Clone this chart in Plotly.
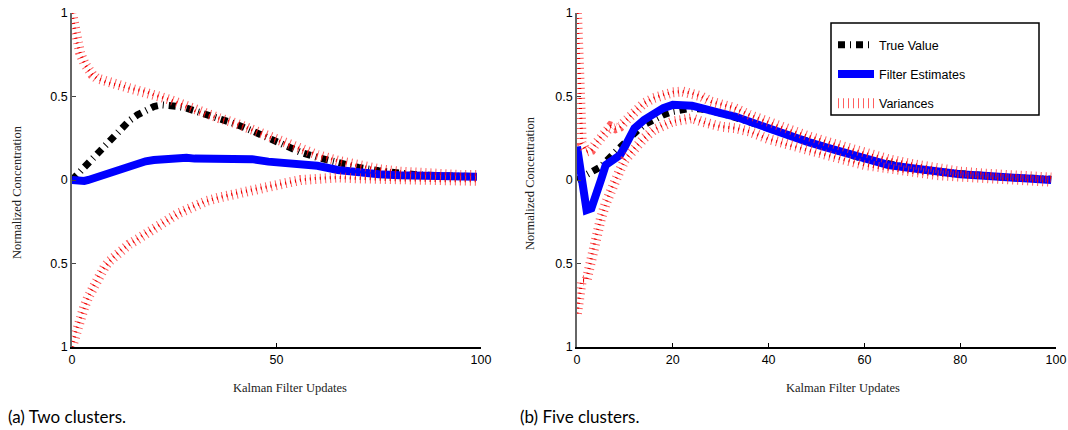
import plotly.graph_objects as go

W, H = 1068, 430

# ---------------- data ----------------
x_pts = [0, 1, 2, 3, 4, 5, 6, 7, 8, 9, 10, 12, 14, 16, 18, 20, 22, 24, 26, 28, 30,
         33, 36, 40, 44, 48, 52, 56, 60, 65, 70, 75, 80, 85, 90, 95, 99]

# (a) Two clusters
true_a = [0.0, 0.025, 0.05, 0.075, 0.10, 0.125, 0.15, 0.175, 0.20, 0.23, 0.26, 0.315, 0.355,
          0.39, 0.42, 0.44, 0.45, 0.45, 0.44, 0.43, 0.415, 0.39, 0.37, 0.335, 0.295, 0.25,
          0.205, 0.165, 0.135, 0.10, 0.075, 0.055, 0.04, 0.03, 0.025, 0.02, 0.02]
est_a = [0.0, -0.004, -0.008, -0.006, 0.0, 0.008, 0.015, 0.025, 0.035, 0.045, 0.055, 0.075,
         0.09, 0.10, 0.112, 0.12, 0.125, 0.13, 0.128, 0.133, 0.128, 0.126, 0.13, 0.133, 0.125,
         0.11, 0.105, 0.10, 0.085, 0.06, 0.045, 0.035, 0.028, 0.024, 0.02, 0.02, 0.02]
var_hi_a = [1.0, 0.84, 0.76, 0.70, 0.66, 0.63, 0.61, 0.60, 0.59, 0.58, 0.575, 0.565, 0.55,
            0.54, 0.53, 0.51, 0.495, 0.48, 0.46, 0.44, 0.415, 0.39, 0.37, 0.34, 0.30, 0.26,
            0.22, 0.185, 0.15, 0.115, 0.085, 0.065, 0.05, 0.04, 0.035, 0.03, 0.03]
var_lo_a = [-1.0, -0.9, -0.83, -0.76, -0.70, -0.65, -0.60, -0.55, -0.52, -0.49, -0.465, -0.42,
            -0.385, -0.355, -0.32, -0.29, -0.26, -0.23, -0.20, -0.175, -0.155, -0.125, -0.105,
            -0.08, -0.06, -0.04, -0.02, 0.0, 0.01, 0.015, 0.01, 0.005, 0.0, 0.0, -0.005,
            -0.005, -0.005]

# (b) Five clusters
true_b = [0.0, 0.015, 0.03, 0.05, 0.065, 0.08, 0.11, 0.14, 0.17, 0.20, 0.225, 0.28, 0.33,
          0.365, 0.39, 0.41, 0.425, 0.43, 0.425, 0.415, 0.40, 0.375, 0.35, 0.31, 0.27, 0.23,
          0.195, 0.16, 0.125, 0.095, 0.07, 0.05, 0.035, 0.025, 0.015, 0.01, 0.005]
est_b = [0.2, -0.04, -0.18, -0.17, -0.10, 0.0, 0.09, 0.11, 0.12, 0.15, 0.20, 0.31, 0.36,
         0.40, 0.43, 0.45, 0.45, 0.445, 0.43, 0.41, 0.40, 0.38, 0.35, 0.30, 0.265, 0.23,
         0.195, 0.16, 0.125, 0.09, 0.07, 0.05, 0.035, 0.025, 0.015, 0.005, 0.0]
var_hi_b = [1.0, 0.22, 0.17, 0.18, 0.22, 0.26, 0.30, 0.32, 0.31, 0.32, 0.35, 0.41, 0.46,
            0.49, 0.51, 0.525, 0.53, 0.52, 0.50, 0.47, 0.455, 0.43, 0.39, 0.345, 0.30, 0.265,
            0.23, 0.195, 0.16, 0.125, 0.095, 0.07, 0.05, 0.038, 0.028, 0.02, 0.015]
var_lo_b = [-0.8, -0.6, -0.6, -0.47, -0.33, -0.23, -0.14, -0.06, 0.0, 0.06, 0.12, 0.19, 0.25,
            0.30, 0.33, 0.35, 0.36, 0.37, 0.35, 0.33, 0.32, 0.31, 0.29, 0.245, 0.21, 0.18,
            0.15, 0.12, 0.09, 0.065, 0.045, 0.03, 0.02, 0.01, 0.003, -0.005, -0.01]

xticks_a = [0, 50, 100]
xticks_b = [0, 20, 40, 60, 80, 100]
yticks = [1, 0.5, 0, -0.5, -1]
ytick_text = ["1", "0.5", "0", "0.5", "1"]

series_names = ["True Value", "Filter Estimates", "Variances"]
captions = ["(a) Two clusters.", "(b) Five clusters."]
x_title = "Kalman Filter Updates"
y_title = "Normalized Concentration"

# ---------------- styles ----------------
TRUE_STYLE = dict(color="black", width=7, dash="7px,5px,1px,5px")
EST_STYLE = dict(color="rgb(0,0,255)", width=8)
VAR_STYLE = dict(color="rgba(255,40,40,0.75)", width=10, dash="1px,4px")
VAR_CORE = dict(color="rgb(235,0,0)", width=3, dash="1px,4px")

fig = go.Figure()


def add_panel(xa, ya, tv, est, hi, lo, legend):
    fig.add_trace(go.Scatter(x=x_pts, y=tv, mode="lines", line=TRUE_STYLE,
                             name=series_names[0], legendgroup="g1",
                             showlegend=legend, xaxis=xa, yaxis=ya))
    fig.add_trace(go.Scatter(x=x_pts, y=est, mode="lines", line=EST_STYLE,
                             name=series_names[1], legendgroup="g2",
                             showlegend=legend, xaxis=xa, yaxis=ya))
    for i, band in enumerate([hi, lo]):
        fig.add_trace(go.Scatter(x=x_pts, y=band, mode="lines", line=VAR_STYLE,
                                 name=series_names[2], legendgroup="g3",
                                 showlegend=legend and i == 0, xaxis=xa, yaxis=ya))
        fig.add_trace(go.Scatter(x=x_pts, y=band, mode="lines", line=VAR_CORE,
                                 name=series_names[2], legendgroup="g3", hoverinfo="skip",
                                 showlegend=False, xaxis=xa, yaxis=ya))


add_panel("x", "y", true_a, est_a, var_hi_a, var_lo_a, False)
add_panel("x2", "y2", true_b, est_b, var_hi_b, var_lo_b, True)

TICKFONT = dict(family="Liberation Sans, Arial, sans-serif", size=12.5, color="black")
SERIF = dict(family="Liberation Serif, Times New Roman, serif", size=12.5, color="#222")


def xaxis(domain, ticks, anchor):
    return dict(domain=domain, range=[0, 100], tickvals=ticks, ticktext=[str(t) for t in ticks],
                showline=True, linecolor="black", linewidth=1.5, ticks="inside", ticklen=4,
                tickcolor="black", tickwidth=1, showgrid=False, zeroline=False,
                tickfont=TICKFONT, fixedrange=True, automargin=False, anchor=anchor,
                ticklabeloverflow="allow")


def yaxis(domain, anchor):
    return dict(domain=domain, range=[-1, 1], tickvals=yticks, ticktext=ytick_text,
                showline=True, linecolor="#666", linewidth=1.5, ticks="inside", ticklen=4,
                tickcolor="#444", tickwidth=1, showgrid=False, zeroline=False,
                tickfont=TICKFONT, anchor=anchor, fixedrange=True, automargin=False,
                ticklabeloverflow="allow")


ydom = [1 - 347 / H, 1 - 13 / H]
fig.update_layout(
    width=W, height=H, margin=dict(l=0, r=0, t=0, b=0, autoexpand=False),
    paper_bgcolor="white", plot_bgcolor="white",
    xaxis=xaxis([72 / W, 481 / W], xticks_a, "y"),
    yaxis=yaxis(ydom, "x"),
    xaxis2=xaxis([577 / W, 1056 / W], xticks_b, "y2"),
    yaxis2=yaxis(ydom, "x2"),
    showlegend=True,
    legend=dict(x=833 / W, y=1 - 30 / H, xanchor="left", yanchor="top",
                bgcolor="rgba(0,0,0,0)", borderwidth=0, tracegroupgap=10, itemwidth=36,
                font=dict(family="Liberation Sans, Arial, sans-serif", size=12.5, color="black")),
)

# legend frame
fig.add_shape(type="rect", xref="paper", yref="paper",
              x0=831 / W, x1=1039 / W, y0=1 - 115 / H, y1=1 - 23 / H,
              line=dict(color="black", width=1.5), fillcolor="rgba(0,0,0,0)", layer="below")

ann = []
for cx, cy in [(290, 388), (843, 388)]:
    ann.append(dict(text=x_title, x=cx / W, y=1 - cy / H, xref="paper", yref="paper",
                    showarrow=False, font=SERIF, xanchor="center", yanchor="middle"))
for cx, cy in [(17, 192), (530, 183)]:
    ann.append(dict(text=y_title, x=cx / W, y=1 - cy / H, xref="paper", yref="paper",
                    showarrow=False, font=SERIF, textangle=-90, xanchor="center", yanchor="middle"))
for cx, text in [(6, captions[0]), (518, captions[1])]:
    ann.append(dict(text=text, x=cx / W, y=1 - 416 / H, xref="paper", yref="paper",
                    showarrow=False, font=dict(family="Lato, Noto Sans, sans-serif", size=17, color="black"),
                    xanchor="left", yanchor="middle"))
fig.update_layout(annotations=ann)

fig.write_html("out.html", config={"displayModeBar": False},
               post_script="document.body.style.margin='0';document.body.style.overflow='hidden';")
